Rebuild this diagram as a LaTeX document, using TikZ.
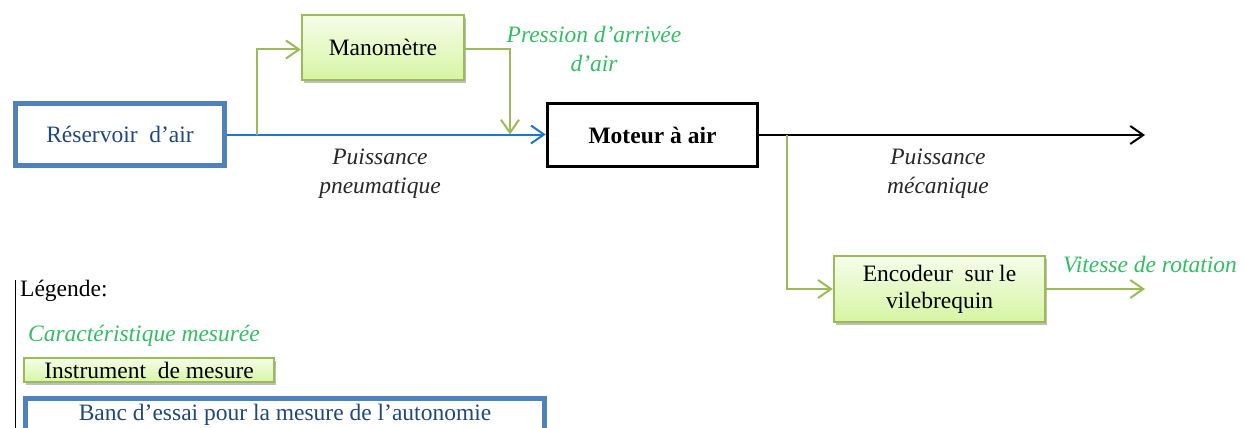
\documentclass[tikz,border=0pt]{standalone}
\usepackage{fontspec}
\setmainfont{Liberation Serif}
\usetikzlibrary{arrows.meta,shadows}
\definecolor{boxblue}{RGB}{79,129,189}
\definecolor{lineblue}{RGB}{31,119,205}
\definecolor{txtblue}{RGB}{31,73,125}
\definecolor{grn}{RGB}{155,187,89}
\definecolor{grntxt}{RGB}{50,190,100}
\definecolor{grntop}{RGB}{246,253,234}
\definecolor{grnbot}{RGB}{214,245,163}
\definecolor{lbl}{RGB}{40,40,40}
\tikzset{
  tip/.style={-{Straight Barb[length=13pt,width=18pt,line width=2pt]}},
  bluebox/.style={draw=boxblue,line width=5pt,fill=white,text=txtblue,font=\fontsize{23.5}{28}\selectfont,align=center,inner sep=0pt},
  instbox/.style={draw=grn,line width=2.5pt,top color=grntop,bottom color=grnbot,font=\fontsize{23.5}{28}\selectfont,align=center,inner sep=0pt,
    drop shadow={shadow xshift=2pt,shadow yshift=-3pt,opacity=0.25,fill=black}},
  motbox/.style={draw=black,line width=3.5pt,fill=white,font=\fontsize{23.5}{28}\selectfont\bfseries,inner sep=0pt},
  lab/.style={font=\fontsize{23.5}{29}\selectfont\itshape,text=lbl,align=center,inner sep=0pt},
  glab/.style={font=\fontsize{23.5}{29}\selectfont\itshape,text=grntxt,align=center,inner sep=0pt},
  plain/.style={font=\fontsize{23.5}{28}\selectfont,inner sep=0pt},
  gline/.style={draw=grn,line width=2pt},
  bline/.style={draw=lineblue,line width=2pt},
  kline/.style={draw=black,line width=2pt}
}
\begin{document}
\begin{tikzpicture}[x=1pt,y=-1pt]
\useasboundingbox (0,0) rectangle (1244,428);
% main boxes
\node[bluebox,minimum width=209pt,minimum height=62pt] (res) at (120,134.5) {Réservoir\ \ d’air};
\node[instbox,minimum width=162pt,minimum height=65pt] (mano) at (383,47.5) {Manomètre};
\node[motbox,minimum width=210pt,minimum height=63pt] (mot) at (652.5,135) {Moteur à air};
\node[instbox,minimum width=211pt,minimum height=66pt] (enc) at (939.5,289) {Encodeur\ \ sur le\\[-1pt]vilebrequin};
% coordinates
\coordinate (s1) at (257,134.5);
\coordinate (m1) at (510,49.5);
\coordinate (m2) at (510,134.5);
\coordinate (s2) at (787,135);
\coordinate (out1) at (1145,135);
\coordinate (out2) at (1145,289);
% connectors
\draw[bline,tip] (res.east) -- (mot.west |- res.east);
\draw[gline,tip] (s1) |- (mano.west |- 0,49.5);
\draw[gline,tip] (mano.east |- m1) -- (m1) -- (m2);
\draw[kline,tip] (mot.east) -- (out1);
\draw[gline,tip] (s2) |- (enc.west);
\draw[gline,tip] (enc.east) -- (out2);
% labels
\node[lab] (lp) at (380,174) {Puissance\\pneumatique};
\node[glab] (lpr) at (594,49) {Pression d’arrivée\\d’air};
\node[lab] (lm) at (938,174) {Puissance\\mécanique};
\node[glab] (lv) at (1150,265) {Vitesse de rotation};
% legend
\draw[black,line width=1pt] (15,280) -- (15,428);
\node[plain,anchor=west] (leg) at (20,291) {Légende:};
\node[glab] (lc) at (144,336) {Caractéristique mesurée};
\node[instbox,line width=2pt,minimum width=250pt,minimum height=24pt] (li) at (149,370) {Instrument\ \ de mesure};
\node[bluebox,minimum width=519pt,minimum height=40pt,text height=22pt,text depth=18pt] (lb) at (285,418) {Banc d’essai pour la mesure de l’autonomie};
\end{tikzpicture}
\end{document}
